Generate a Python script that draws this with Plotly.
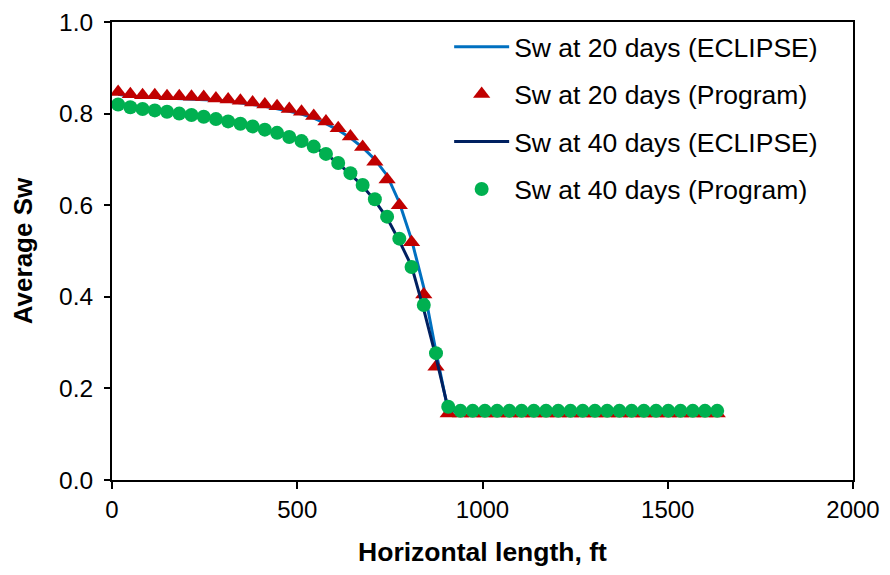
import plotly.graph_objects as go

# Grid-block centres along the horizontal well (ft)
x_ft = [16.5, 49.5, 82.5, 115.5, 148.5, 181.5, 214.5, 247.5, 280.5, 313.5,
        346.5, 379.5, 412.5, 445.5, 478.5, 511.5, 544.5, 577.5, 610.5, 643.5,
        676.5, 709.5, 742.5, 775.5, 808.5, 841.5, 874.5, 907.5, 940.5, 973.5,
        1006.5, 1039.5, 1072.5, 1105.5, 1138.5, 1171.5, 1204.5, 1237.5, 1270.5, 1303.5,
        1336.5, 1369.5, 1402.5, 1435.5, 1468.5, 1501.5, 1534.5, 1567.5, 1600.5, 1633.5]

sw20_eclipse = [0.842, 0.838, 0.836, 0.835, 0.834, 0.833, 0.832, 0.831, 0.829, 0.827,
                0.824, 0.820, 0.816, 0.811, 0.805, 0.799, 0.790, 0.778, 0.764, 0.747,
                0.726, 0.700, 0.665, 0.606, 0.525, 0.420, 0.280, 0.150, 0.150, 0.150,
                0.150, 0.150, 0.150, 0.150, 0.150, 0.150, 0.150, 0.150, 0.150, 0.150,
                0.150, 0.150, 0.150, 0.150, 0.150, 0.150, 0.150, 0.150, 0.150, 0.150]

sw20_program = [0.847, 0.842, 0.840, 0.840, 0.838, 0.838, 0.837, 0.836, 0.833, 0.831,
                0.828, 0.824, 0.820, 0.816, 0.810, 0.804, 0.795, 0.783, 0.768, 0.750,
                0.727, 0.695, 0.656, 0.600, 0.519, 0.405, 0.247, 0.145, 0.145, 0.145,
                0.145, 0.145, 0.145, 0.145, 0.145, 0.145, 0.145, 0.145, 0.145, 0.145,
                0.145, 0.145, 0.145, 0.145, 0.145, 0.145, 0.145, 0.145, 0.145, 0.145]

sw40_eclipse = [0.818, 0.813, 0.809, 0.806, 0.803, 0.799, 0.796, 0.792, 0.787, 0.782,
                0.777, 0.771, 0.764, 0.757, 0.748, 0.739, 0.727, 0.712, 0.691, 0.668,
                0.642, 0.610, 0.572, 0.522, 0.467, 0.372, 0.268, 0.155, 0.150, 0.150,
                0.150, 0.150, 0.150, 0.150, 0.150, 0.150, 0.150, 0.150, 0.150, 0.150,
                0.150, 0.150, 0.150, 0.150, 0.150, 0.150, 0.150, 0.150, 0.150, 0.150]

sw40_program = [0.820, 0.814, 0.810, 0.807, 0.804, 0.800, 0.797, 0.793, 0.788, 0.783,
                0.778, 0.772, 0.765, 0.758, 0.749, 0.740, 0.728, 0.712, 0.692, 0.670,
                0.644, 0.613, 0.575, 0.527, 0.465, 0.382, 0.277, 0.160, 0.151, 0.151,
                0.151, 0.151, 0.151, 0.151, 0.151, 0.151, 0.151, 0.151, 0.151, 0.151,
                0.151, 0.151, 0.151, 0.151, 0.151, 0.151, 0.151, 0.151, 0.151, 0.151]

x_ticks = [0, 500, 1000, 1500, 2000]
y_ticks = [0.0, 0.2, 0.4, 0.6, 0.8, 1.0]
y_tick_text = ["0.0", "0.2", "0.4", "0.6", "0.8", "1.0"]

FONT = "Arial, 'Liberation Sans', sans-serif"

fig = go.Figure()
fig.add_trace(go.Scatter(x=x_ft, y=sw20_eclipse, mode="lines",
                         name="Sw at 20 days (ECLIPSE)", legendgroup="a",
                         line=dict(color="#0070C0", width=3)))
fig.add_trace(go.Scatter(x=x_ft, y=sw20_program, mode="markers",
                         name="Sw at 20 days (Program)", legendgroup="b",
                         marker=dict(symbol="triangle-up", size=15, color="#C00000")))
fig.add_trace(go.Scatter(x=x_ft, y=sw40_eclipse, mode="lines",
                         name="Sw at 40 days (ECLIPSE)", legendgroup="c",
                         line=dict(color="#002060", width=3)))
fig.add_trace(go.Scatter(x=x_ft, y=sw40_program, mode="markers",
                         name="Sw at 40 days (Program)", legendgroup="d",
                         marker=dict(symbol="circle", size=14, color="#00B050")))

# The page body adds an 8px offset; margins compensate for it.
fig.update_layout(
    width=890, height=575,
    margin=dict(l=104, r=45, t=14, b=103, autoexpand=False),
    paper_bgcolor="white", plot_bgcolor="white",
    font=dict(family=FONT, size=24, color="black"),
    showlegend=True,
    legend=dict(x=0.455, y=0.998, xanchor="left", yanchor="top",
                bgcolor="rgba(0,0,0,0)", borderwidth=0,
                font=dict(family=FONT, size=26.5, color="black"),
                itemwidth=55, tracegroupgap=10, traceorder="grouped"),
    xaxis=dict(range=[0, 2000], tickvals=x_ticks, ticks="outside", ticklen=7,
               tickwidth=2, tickcolor="black", showline=True, linecolor="black",
               linewidth=2, mirror=True, showgrid=False, zeroline=False,
               automargin=False, ticklabeloverflow="allow",
               tickfont=dict(family=FONT, size=24),
               title=dict(text="<b>Horizontal length, ft</b>", standoff=21,
                          font=dict(family=FONT, size=26.5))),
    yaxis=dict(range=[0, 1.0], tickvals=y_ticks, ticktext=y_tick_text,
               ticks="outside", ticklen=6, tickwidth=2, tickcolor="black",
               showline=True, linecolor="black", linewidth=2, mirror=True,
               showgrid=False, zeroline=False, automargin=False,
               ticklabelstandoff=6, ticklabeloverflow="allow",
               tickfont=dict(family=FONT, size=24.5),
               title=dict(text="<b>Average Sw</b>", standoff=20,
                          font=dict(family=FONT, size=26))),
)

fig.write_html("out.html")
